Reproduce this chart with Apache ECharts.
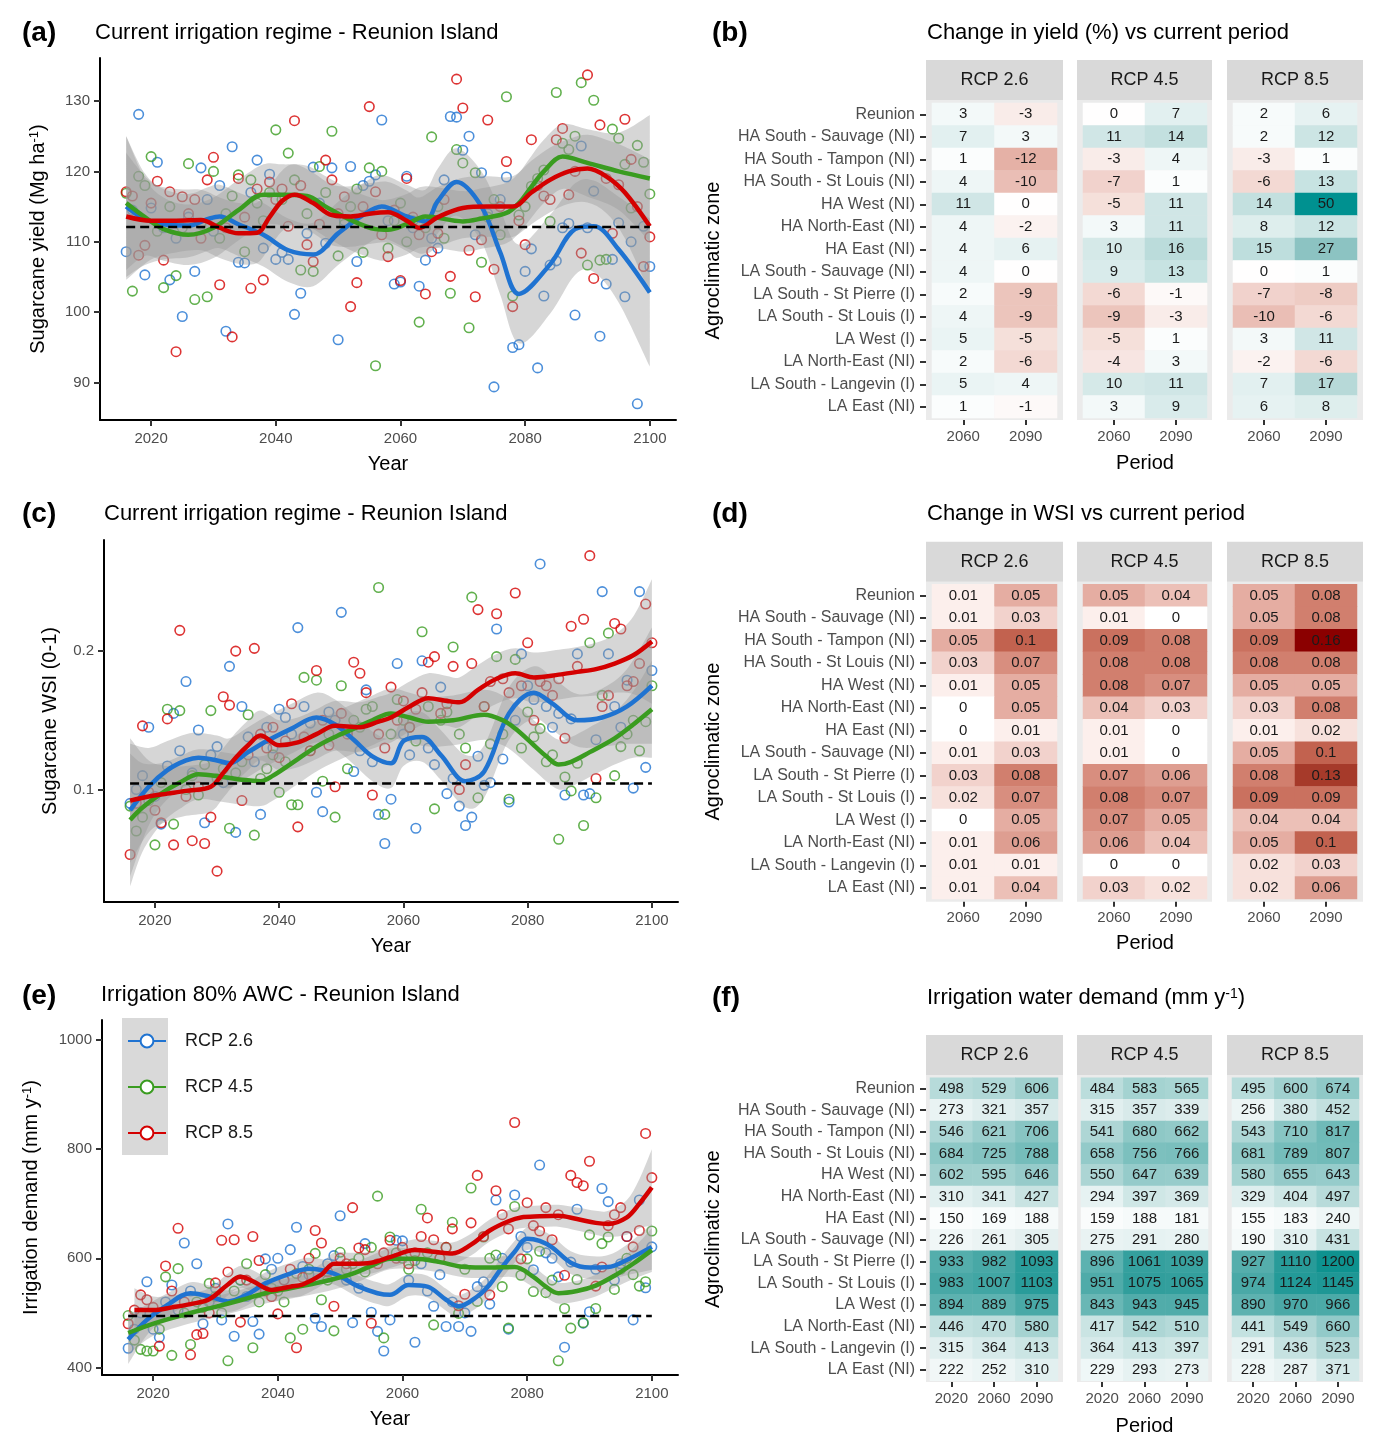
<!DOCTYPE html>
<html><head><meta charset="utf-8">
<script src="https://cdn.jsdelivr.net/npm/echarts@6/dist/echarts.min.js"></script>
<style>html,body{margin:0;padding:0;background:#fff}#c{width:1378px;height:1446px}</style>
</head><body><div id="c"></div>
<script>
// ---------------- DATA ----------------
const firstYear = 2016;
const rcpNames = ['RCP 2.6', 'RCP 4.5', 'RCP 8.5'];

// (a) yearly sugarcane yield (Mg/ha), 2016..2100
const yieldRcp26 = [108.6,114.5,128.1,105.3,114.8,121.3,112.0,104.6,110.5,99.4,
113.5,105.8,120.5,116.0,111.5,118.0,97.3,123.5,107.1,107.0,
117.0,121.6,109.1,119.6,107.5,108.5,107.5,99.7,102.7,111.2,
120.6,115.5,109.8,120.5,96.1,113.0,120.7,107.2,118.0,118.6,
119.5,127.3,113.0,104.0,104.3,119.3,112.0,103.7,107.4,110.5,
109.1,118.8,127.8,127.7,123.0,125.0,111.0,119.8,114.0,89.4,
116.0,119.2,95.0,95.4,105.8,109.0,92.1,102.3,106.7,107.3,
112.0,112.6,99.6,123.6,112.0,117.2,96.6,104.0,107.5,112.7,
102.2,110.0,87.0,112.2,106.5];
const yieldRcp45 = [116.9,103.0,119.3,118.0,122.1,111.5,103.5,115.0,105.2,112.0,
121.1,101.8,112.5,102.2,120.0,110.5,114.0,116.5,119.5,108.6,
118.8,115.5,113.0,117.0,125.9,116.0,122.6,118.8,106.0,114.0,
105.8,120.7,117.0,125.7,108.0,112.5,115.0,117.5,108.5,120.5,
92.4,120.0,109.1,113.0,115.5,110.0,113.0,98.6,112.0,124.9,
115.0,110.5,102.7,123.1,121.2,97.8,119.8,107.1,113.5,116.0,
111.0,130.6,102.3,113.8,115.0,117.9,119.0,120.2,112.9,131.2,
124.0,123.1,125.0,132.6,106.7,130.1,107.4,107.5,126.0,124.7,
121.0,114.8,123.7,121.3,116.8];
const yieldRcp85 = [117.1,116.5,108.1,109.5,115.5,118.6,107.4,117.1,94.4,116.4,
114.0,116.0,110.5,118.8,122.0,103.9,112.0,96.5,119.0,113.5,
103.4,117.5,104.6,118.5,116.0,117.5,112.2,127.2,118.0,109.6,
107.2,112.5,121.6,118.8,114.0,116.4,100.8,104.2,115.0,129.2,
117.1,111.0,107.9,114.5,104.5,119.0,113.5,111.0,102.6,108.6,
111.2,116.0,105.1,133.1,129.0,108.8,102.2,110.3,127.3,106.1,
115.0,121.4,100.8,113.0,109.6,124.5,118.0,116.5,116.0,124.5,
126.1,116.7,120.0,108.4,133.7,104.8,126.6,119.0,111.2,118.1,
127.4,121.7,115.0,106.5,110.7];
const yieldBaseline = 112.1;

// smoothed fits (a): years, fitted value, half-width of confidence band
const yieldFit26Years = [2016,2019,2022,2026,2029,2031,2034,2038,2042,2046,2050,2054,2057,2061,2064,2066,2069,2073,2076,2079,2084,2088,2091,2095,2100];
const yieldFit26 = [115.0,113.2,112.5,112.3,113.2,113.6,112.5,111.0,108.8,108.2,111.2,113.8,115.0,113.6,112.9,115.8,118.5,115.0,108.5,102.6,106.8,111.8,112.2,108.9,102.8];
const yieldFit26Hw = [10,6.5,5,4.5,4.5,4.5,4.5,4.5,4.5,4.5,4.5,4.5,4.5,4.5,4.5,4.6,4.8,5.0,6.0,7.0,7.0,6.5,6.5,7.5,10.5];
const yieldFit45Years = [2016,2019,2022,2026,2030,2034,2038,2041,2045,2048,2052,2056,2058,2061,2064,2070,2073,2077,2079,2081,2083,2086,2090,2095,2100];
const yieldFit45 = [115.5,113.5,111.8,111.0,112.0,114.5,116.7,116.7,116.5,115.0,113.1,111.8,111.7,112.5,113.6,112.9,113.3,114.1,115.5,117.8,120.0,122.1,121.2,120.0,119.0];
const yieldFit45Hw = [9.5,5.5,4.5,4.3,4.3,4.3,4.3,4.3,4.3,4.3,4.3,4.3,4.3,4.3,4.3,4.3,4.3,4.3,4.3,4.4,4.5,4.6,4.8,5.5,9];
const yieldFit85Years = [2016,2020,2024,2028,2031,2034,2037,2039,2041,2043,2046,2049,2052,2055,2058,2061,2063,2066,2070,2074,2078,2081,2084,2087,2090,2093,2096,2100];
const yieldFit85 = [113.6,113.0,113.0,113.1,112.0,111.2,111.3,113.5,115.8,116.7,115.5,113.8,113.6,114.0,114.2,113.0,112.0,113.5,114.8,115.0,115.0,117.0,118.8,120.0,120.4,119.3,117.0,112.2];
const yieldFit85Hw = [9,5.5,4.5,4.3,4.3,4.3,4.3,4.3,4.3,4.3,4.3,4.3,4.3,4.3,4.3,4.3,4.3,4.3,4.3,4.3,4.3,4.5,4.6,4.6,4.8,5.2,6.5,9.5];

// (c) yearly WSI
const wsiRcp26 = [0.090,0.100,0.110,0.145,0.095,0.075,0.117,0.155,0.128,0.178,
0.112,0.143,0.076,0.125,0.131,0.105,0.189,0.069,0.160,0.138,
0.120,0.082,0.145,0.130,0.158,0.152,0.140,0.217,0.160,0.148,
0.098,0.084,0.156,0.150,0.228,0.142,0.113,0.128,0.172,0.120,
0.082,0.061,0.093,0.191,0.140,0.125,0.072,0.193,0.130,0.118,
0.174,0.097,0.108,0.088,0.074,0.080,0.124,0.103,0.105,0.216,
0.122,0.091,0.150,0.198,0.175,0.165,0.263,0.160,0.145,0.155,
0.096,0.151,0.198,0.096,0.097,0.136,0.243,0.198,0.160,0.145,
0.179,0.101,0.243,0.116,0.186];
const wsiRcp45 = [0.088,0.070,0.080,0.092,0.060,0.105,0.158,0.075,0.157,0.100,
0.110,0.096,0.118,0.157,0.108,0.115,0.072,0.112,0.120,0.154,
0.067,0.108,0.115,0.125,0.098,0.120,0.089,0.089,0.181,0.128,
0.179,0.106,0.140,0.080,0.175,0.115,0.150,0.145,0.158,0.160,
0.246,0.082,0.140,0.165,0.150,0.145,0.135,0.214,0.160,0.086,
0.150,0.156,0.203,0.140,0.130,0.239,0.094,0.160,0.133,0.196,
0.140,0.093,0.194,0.130,0.156,0.138,0.144,0.120,0.125,0.064,
0.109,0.099,0.119,0.074,0.206,0.094,0.168,0.213,0.110,0.131,
0.140,0.150,0.128,0.149,0.175];
const wsiRcp85 = [0.053,0.090,0.146,0.098,0.085,0.076,0.151,0.060,0.215,0.095,
0.063,0.102,0.061,0.080,0.041,0.167,0.161,0.200,0.092,0.125,
0.202,0.140,0.130,0.145,0.123,0.135,0.162,0.073,0.138,0.128,
0.186,0.150,0.132,0.102,0.155,0.140,0.192,0.184,0.170,0.096,
0.140,0.130,0.174,0.150,0.164,0.145,0.158,0.170,0.192,0.196,
0.155,0.162,0.189,0.100,0.118,0.191,0.230,0.160,0.178,0.227,
0.180,0.170,0.242,0.175,0.206,0.150,0.178,0.175,0.168,0.180,
0.137,0.218,0.189,0.223,0.269,0.108,0.160,0.168,0.220,0.216,
0.175,0.178,0.191,0.234,0.206];
const wsiBaseline = 0.1043;

const wsiFit26Years = [2016,2019,2022,2025,2027,2030,2032,2035,2038,2042,2046,2049,2052,2055,2058,2060,2063,2066,2070,2073,2077,2081,2084,2088,2092,2096,2100];
const wsiFit26 = [0.085,0.102,0.114,0.121,0.123,0.121,0.119,0.127,0.135,0.144,0.152,0.147,0.136,0.124,0.119,0.135,0.138,0.125,0.106,0.113,0.155,0.170,0.162,0.150,0.152,0.160,0.175];
const wsiFit26Hw = [0.048,0.028,0.021,0.019,0.018,0.018,0.018,0.018,0.018,0.018,0.018,0.018,0.018,0.018,0.018,0.018,0.018,0.018,0.019,0.019,0.019,0.019,0.019,0.019,0.021,0.027,0.042];
const wsiFit45Years = [2016,2018,2021,2024,2027,2031,2034,2037,2039,2043,2046,2049,2052,2055,2058,2061,2064,2068,2073,2076,2078,2081,2083,2085,2087,2090,2094,2097,2100];
const wsiFit45 = [0.078,0.087,0.097,0.105,0.111,0.109,0.107,0.106,0.110,0.122,0.131,0.138,0.144,0.150,0.155,0.152,0.149,0.150,0.154,0.150,0.144,0.132,0.124,0.118,0.120,0.127,0.137,0.147,0.158];
const wsiFit45Hw = [0.048,0.032,0.022,0.019,0.018,0.018,0.018,0.018,0.018,0.018,0.018,0.018,0.018,0.018,0.018,0.018,0.018,0.018,0.018,0.018,0.018,0.018,0.018,0.018,0.018,0.018,0.019,0.024,0.035];
const wsiFit85Years = [2016,2019,2022,2025,2029,2031,2033,2035,2037,2040,2043,2046,2049,2053,2056,2058,2061,2064,2067,2069,2072,2075,2078,2081,2085,2088,2091,2094,2097,2100];
const wsiFit85 = [0.092,0.095,0.097,0.099,0.102,0.112,0.123,0.132,0.139,0.132,0.134,0.140,0.146,0.145,0.149,0.152,0.160,0.166,0.164,0.163,0.172,0.180,0.184,0.181,0.183,0.185,0.187,0.191,0.197,0.207];
const wsiFit85Hw = [0.045,0.026,0.02,0.018,0.018,0.018,0.018,0.018,0.018,0.018,0.018,0.018,0.018,0.018,0.018,0.018,0.018,0.018,0.018,0.018,0.018,0.018,0.018,0.018,0.018,0.018,0.019,0.021,0.028,0.045];

// (e) yearly irrigation demand (mm/y)
const irrRcp26 = [435,470,500,557,470,455,520,551,505,628,
540,590,480,520,545,487,663,457,560,530,
484,461,599,580,600,560,616,657,585,570,
490,475,590,605,678,560,482,545,627,501,
466,430,487,633,632,560,446,590,540,512,
570,475,520,475,500,466,548,557,516,707,
600,470,716,640,620,579,771,610,600,566,
437,593,690,481,502,580,728,704,560,590,
640,487,707,546,621];
const irrRcp45 = [495,450,433,430,430,470,566,422,581,500,
442,520,510,554,530,500,412,540,560,590,
436,520,570,545,540,520,454,572,470,580,
609,524,560,467,611,580,590,600,575,620,
714,454,639,610,600,580,596,690,610,478,
600,620,666,499,580,729,521,639,600,606,
548,472,695,569,599,539,613,537,560,412,
508,472,561,482,643,508,627,639,543,580,
600,570,549,557,650];
const irrRcp85 = [480,505,533,524,510,439,586,540,655,520,
423,460,462,500,555,633,575,634,483,560,
640,596,540,530,498,560,580,436,565,600,
651,628,575,512,600,590,693,619,616,481,
590,610,633,600,620,590,610,640,674,634,
600,620,654,513,534,665,752,640,533,724,
680,654,849,599,702,660,650,693,634,680,
569,752,739,733,778,549,584,660,680,693,
640,621,651,829,748];
const irrBaseline = 494;

const irrFit26Years = [2016,2019,2022,2026,2029,2032,2035,2038,2042,2045,2049,2053,2056,2058,2061,2064,2067,2069,2072,2074,2076,2078,2080,2082,2084,2087,2090,2093,2096,2100];
const irrFit26 = [451,487,512,536,530,521,533,554,572,581,572,548,536,533,551,548,524,512,530,552,584,612,636,632,620,592,583,584,597,621];
const irrFit26Hw = [45,28,22,20,20,20,20,20,20,20,20,20,20,20,20,20,20,20,20,20,20,20,21,21,21,21,21,22,28,42];
const irrFit45Years = [2016,2019,2022,2026,2030,2034,2038,2042,2046,2049,2052,2055,2058,2062,2066,2070,2074,2078,2081,2083,2085,2088,2091,2094,2097,2100];
const irrFit45 = [463,476,487,500,511,523,536,545,554,562,572,586,599,599,593,584,583,584,566,548,536,540,550,568,590,615];
const irrFit45Hw = [40,25,20,19,19,19,19,19,19,19,19,19,19,19,19,19,19,19,19,19,19,19,20,22,28,40];
const irrFit85Years = [2017,2020,2023,2026,2029,2032,2034,2036,2039,2042,2044,2047,2049,2052,2055,2058,2062,2065,2068,2071,2074,2077,2079,2082,2085,2088,2091,2093,2096,2098,2100];
const irrFit85 = [505,505,510,516,525,552,566,558,542,548,552,570,590,590,592,602,615,612,609,625,651,668,675,677,678,672,665,663,675,700,730];
const irrFit85Hw = [40,25,22,20,20,20,20,20,20,20,20,20,20,20,20,20,20,20,20,20,20,20,20,20,20,21,22,24,32,45,70];

// tick labels
const yearTicks = [2020, 2040, 2060, 2080, 2100];
const yieldTicks = [90, 100, 110, 120, 130];
const wsiTicks = [0.1, 0.2];
const irrTicks = [400, 600, 800, 1000];

// heatmaps
const zones = ['Reunion','HA South - Sauvage (NI)','HA South - Tampon (NI)','HA South - St Louis (NI)','HA West (NI)','HA North-East (NI)','HA East (NI)','LA South - Sauvage (NI)','LA South - St Pierre (I)','LA South - St Louis (I)','LA West (I)','LA North-East (NI)','LA South - Langevin (I)','LA East (NI)'];
const periods2 = ['2060', '2090'];
const periods3 = ['2020', '2060', '2090'];

const yieldChange26 = [[3,-3],[7,3],[1,-12],[4,-10],[11,0],[4,-2],[4,6],[4,0],[2,-9],[4,-9],[5,-5],[2,-6],[5,4],[1,-1]];
const yieldChange45 = [[0,7],[11,14],[-3,4],[-7,1],[-5,11],[3,11],[10,16],[9,13],[-6,-1],[-9,-3],[-5,1],[-4,3],[10,11],[3,9]];
const yieldChange85 = [[2,6],[2,12],[-3,1],[-6,13],[14,50],[8,12],[15,27],[0,1],[-7,-8],[-10,-6],[3,11],[-2,-6],[7,17],[6,8]];

const wsiChange26 = [[0.01,0.05],[0.01,0.03],[0.05,0.1],[0.03,0.07],[0.01,0.05],[0,0.05],[0,0.01],[0.01,0.03],[0.03,0.08],[0.02,0.07],[0,0.05],[0.01,0.06],[0.01,0.01],[0.01,0.04]];
const wsiChange45 = [[0.05,0.04],[0.01,0],[0.09,0.08],[0.08,0.08],[0.08,0.07],[0.04,0.03],[0.01,0],[0.01,0],[0.07,0.06],[0.08,0.07],[0.07,0.05],[0.06,0.04],[0,0],[0.03,0.02]];
const wsiChange85 = [[0.05,0.08],[0.05,0.08],[0.09,0.16],[0.08,0.08],[0.05,0.05],[0.03,0.08],[0.01,0.02],[0.05,0.1],[0.08,0.13],[0.09,0.09],[0.04,0.04],[0.05,0.1],[0.02,0.03],[0.02,0.06]];

const irrDemand26 = [[498,529,606],[273,321,357],[546,621,706],[684,725,788],[602,595,646],[310,341,427],[150,169,188],[226,261,305],[933,982,1093],[983,1007,1103],[894,889,975],[446,470,580],[315,364,413],[222,252,310]];
const irrDemand45 = [[484,583,565],[315,357,339],[541,680,662],[658,756,766],[550,647,639],[294,397,369],[159,188,181],[275,291,280],[896,1061,1039],[951,1075,1065],[843,943,945],[417,542,510],[364,413,397],[229,293,273]];
const irrDemand85 = [[495,600,674],[256,380,452],[543,710,817],[681,789,807],[580,655,643],[329,404,497],[155,183,240],[190,310,431],[927,1110,1200],[974,1124,1145],[890,970,966],[441,549,660],[291,436,523],[228,287,371]];

// ---------------- STYLE / BUILD ----------------
const FONT = "'Liberation Sans', Arial, Helvetica, sans-serif";
const rcpColors = ['#1f73d1', '#3a9c20', '#d40000'];

const option = {
  animation: false, backgroundColor: '#ffffff',
  textStyle: { fontFamily: FONT },
  grid: [], xAxis: [], yAxis: [], series: [], title: [], graphic: [], visualMap: []
};

function toPairs(vals) { return vals.map((v, i) => [firstYear + i, v]); }
function zip(xs, ys) { return xs.map((x, i) => [x, ys[i]]); }
const plainNum = v => String(v);

function hexToRgb(h) { return [parseInt(h.slice(1,3),16), parseInt(h.slice(3,5),16), parseInt(h.slice(5,7),16)]; }
function colorAt(stops, v) {
  if (v <= stops[0][0]) return stops[0][1];
  for (let i = 1; i < stops.length; i++) {
    if (v <= stops[i][0]) {
      const t = (v - stops[i-1][0]) / (stops[i][0] - stops[i-1][0]);
      const a = hexToRgb(stops[i-1][1]), b = hexToRgb(stops[i][1]);
      return 'rgb(' + a.map((c, j) => Math.round(c + (b[j] - c) * t)).join(',') + ')';
    }
  }
  return stops[stops.length-1][1];
}
function ramp(stops, min, max, n) { const o = []; for (let i = 0; i < n; i++) o.push(colorAt(stops, min + (max - min) * i / (n - 1))); return o; }

// Catmull-Rom style bezier segments through pixel points (rendering only)
function bezierThrough(pts) {
  let d = '';
  for (let i = 0; i < pts.length - 1; i++) {
    const p0 = pts[i - 1] || pts[i], p1 = pts[i], p2 = pts[i + 1], p3 = pts[i + 2] || pts[i + 1];
    const c1x = p1[0] + (p2[0] - p0[0]) / 6, c1y = p1[1] + (p2[1] - p0[1]) / 6;
    const c2x = p2[0] - (p3[0] - p1[0]) / 6, c2y = p2[1] - (p3[1] - p1[1]) / 6;
    d += ' C' + c1x.toFixed(2) + ' ' + c1y.toFixed(2) + ' ' + c2x.toFixed(2) + ' ' + c2y.toFixed(2) + ' ' + p2[0].toFixed(2) + ' ' + p2[1].toFixed(2);
  }
  return d;
}

function ribbon(gi, years, fit, hw) {
  const rows = years.map((y, i) => [y, fit[i] - hw[i], fit[i] + hw[i]]);
  return {
    type: 'custom', xAxisIndex: gi, yAxisIndex: gi, z: 3, silent: true, clip: true,
    data: rows, encode: { x: 0, y: [1, 2] },
    renderItem: function (params, api) {
      if (params.dataIndex !== 0) return null;
      const lo = rows.map(r => api.coord([r[0], r[1]]));
      const hi = rows.map(r => api.coord([r[0], r[2]])).reverse();
      const d = 'M' + lo[0][0].toFixed(2) + ' ' + lo[0][1].toFixed(2) + bezierThrough(lo) +
        ' L' + hi[0][0].toFixed(2) + ' ' + hi[0][1].toFixed(2) + bezierThrough(hi) + ' Z';
      return { type: 'path', shape: { pathData: d }, style: { fill: 'rgba(153,153,153,0.4)', stroke: null } };
    }
  };
}

const richName = { n: { fontSize: 20, color: '#000', fontFamily: FONT }, s: { fontSize: 13, color: '#000', verticalAlign: 'top', fontFamily: FONT } };

function addLeftPanel(cfg) {
  const gi = option.grid.length;
  option.grid.push({ left: cfg.left, top: cfg.top, width: cfg.width, height: cfg.height });
  option.xAxis.push({
    type: 'value', gridIndex: gi, min: 2011.8, max: 2104.2,
    name: 'Year', nameLocation: 'middle', nameGap: 34, nameTextStyle: { fontSize: 20, color: '#000' },
    axisLine: { show: true, onZero: false, lineStyle: { color: '#000', width: 2 } },
    axisTick: { show: true, length: 6, lineStyle: { color: '#333', width: 2 }, customValues: yearTicks },
    axisLabel: { color: '#4d4d4d', fontSize: 15, margin: 11, customValues: yearTicks, formatter: plainNum },
    splitLine: { show: false }
  });
  option.yAxis.push({
    type: 'value', gridIndex: gi, min: cfg.ymin, max: cfg.ymax,
    name: cfg.yname, nameLocation: 'middle', nameGap: cfg.nameGap, nameRotate: 90,
    nameTextStyle: { fontSize: 20, color: '#000', rich: richName },
    axisLine: { show: true, onZero: false, lineStyle: { color: '#000', width: 2 } },
    axisTick: { show: true, length: 6, lineStyle: { color: '#333', width: 2 }, customValues: cfg.yticks },
    axisLabel: { color: '#4d4d4d', fontSize: 15, margin: 10, customValues: cfg.yticks, formatter: plainNum },
    splitLine: { show: false }
  });
  cfg.points.forEach((vals, k) => {
    option.series.push({
      type: 'scatter', name: rcpNames[k] + ' points', xAxisIndex: gi, yAxisIndex: gi, z: 2, silent: true,
      data: toPairs(vals), symbol: 'circle', symbolSize: 9.5,
      itemStyle: { color: 'rgba(255,255,255,0)', borderColor: rcpColors[k], borderWidth: 1.6 }
    });
  });
  cfg.fits.forEach(f => option.series.push(ribbon(gi, f[0], f[1], f[2])));
  cfg.fits.forEach((f, k) => {
    option.series.push({
      type: 'line', name: rcpNames[k], xAxisIndex: gi, yAxisIndex: gi, z: 4, silent: true,
      data: zip(f[0], f[1]), smooth: 0.35, showSymbol: false, symbol: 'emptyCircle', symbolSize: 10,
      lineStyle: { color: rcpColors[k], width: 4.5 }, itemStyle: { color: rcpColors[k] }
    });
  });
  const lastYear = firstYear + cfg.points[0].length - 1;
  option.series.push({
    type: 'line', name: 'baseline', xAxisIndex: gi, yAxisIndex: gi, z: 5, silent: true,
    data: [[firstYear, cfg.baseline], [lastYear, cfg.baseline]], symbol: 'none',
    lineStyle: { color: '#000', width: 2.5, type: [9, 5] }
  });
}

addLeftPanel({ left: 100, top: 58, width: 576, height: 362, ymin: 84.7, ymax: 136.1, yticks: yieldTicks,
  yname: '{n|Sugarcane yield (Mg ha}{s|-1}{n|)}', nameGap: 52,
  points: [yieldRcp26, yieldRcp45, yieldRcp85], baseline: yieldBaseline,
  fits: [[yieldFit26Years, yieldFit26, yieldFit26Hw], [yieldFit45Years, yieldFit45, yieldFit45Hw], [yieldFit85Years, yieldFit85, yieldFit85Hw]] });
addLeftPanel({ left: 104, top: 540, width: 574, height: 362, ymin: 0.0187, ymax: 0.2803, yticks: wsiTicks,
  yname: 'Sugarcane WSI (0-1)', nameGap: 44,
  points: [wsiRcp26, wsiRcp45, wsiRcp85], baseline: wsiBaseline,
  fits: [[wsiFit26Years, wsiFit26, wsiFit26Hw], [wsiFit45Years, wsiFit45, wsiFit45Hw], [wsiFit85Years, wsiFit85, wsiFit85Hw]] });
addLeftPanel({ left: 102, top: 1020, width: 576, height: 355, ymin: 386, ymax: 1037, yticks: irrTicks,
  yname: '{n|Irrigation demand (mm y}{s|-1}{n|)}', nameGap: 61,
  points: [irrRcp26, irrRcp45, irrRcp85], baseline: irrBaseline,
  fits: [[irrFit26Years, irrFit26, irrFit26Hw], [irrFit45Years, irrFit45, irrFit45Hw], [irrFit85Years, irrFit85, irrFit85Hw]] });

// legend box (e)
option.graphic.push({ type: 'rect', shape: { x: 122, y: 1018, width: 46, height: 137 }, style: { fill: '#d9d9d9' }, z: 0, silent: true });
option.legend = {
  data: rcpNames, orient: 'vertical', left: 127, top: 1032, itemWidth: 38, itemHeight: 16, itemGap: 28,
  selectedMode: false, padding: 0,
  textStyle: { fontSize: 18, color: '#1a1a1a', padding: [0, 0, 0, 14] }
};

function heatData(rows) { const d = []; rows.forEach((r, zi) => r.forEach((v, pi) => d.push([pi, zi, v]))); return d; }

const panelX = [[926, 1063], [1077, 1212], [1227, 1363]];

function addHeatPanel(cfg) {
  const sIdx = [];
  for (let f = 0; f < 3; f++) {
    const gi = option.grid.length;
    const x0 = cfg.cellX[f][0], x1 = cfg.cellX[f][1];
    option.grid.push({ left: x0, top: cfg.cellsTop, width: x1 - x0, height: cfg.cellsBottom - cfg.cellsTop });
    option.xAxis.push({
      type: 'category', gridIndex: gi, data: cfg.periods, position: 'bottom', offset: cfg.bgBottom - cfg.cellsBottom,
      axisLine: { show: false },
      axisTick: { show: true, alignWithLabel: true, length: 5, lineStyle: { color: '#333', width: 2 } },
      axisLabel: { color: '#4d4d4d', fontSize: 15, margin: 9, interval: 0 },
      splitLine: { show: false },
      name: f === 1 ? 'Period' : '', nameLocation: 'middle', nameGap: cfg.periodGap, nameTextStyle: { fontSize: 20, color: '#000' }
    });
    option.yAxis.push({
      type: 'category', gridIndex: gi, data: zones, inverse: true, position: 'left', offset: x0 - panelX[f][0],
      axisLine: { show: false },
      axisTick: { show: f === 0, alignWithLabel: true, length: 6, lineStyle: { color: '#333', width: 2 } },
      axisLabel: { show: f === 0, color: '#4d4d4d', fontSize: 16, margin: 11, interval: 0 },
      splitLine: { show: false },
      name: f === 0 ? 'Agroclimatic zone' : '', nameLocation: 'middle', nameGap: 203, nameRotate: 90,
      nameTextStyle: { fontSize: 20, color: '#000' }
    });
    sIdx.push(option.series.length);
    option.series.push({
      type: 'heatmap', xAxisIndex: gi, yAxisIndex: gi, z: 2, silent: true,
      data: heatData(cfg.rows[f]),
      label: { show: true, color: '#1a1a1a', fontSize: 15, formatter: p => String(p.value[2]) },
      itemStyle: { borderWidth: 0 }
    });
    const px0 = panelX[f][0], px1 = panelX[f][1];
    option.graphic.push({ type: 'rect', shape: { x: px0, y: cfg.bgTop, width: px1 - px0, height: cfg.bgBottom - cfg.bgTop }, style: { fill: '#ebebeb' }, z: 0, silent: true });
    option.graphic.push({ type: 'rect', shape: { x: px0, y: cfg.stripTop, width: px1 - px0, height: cfg.bgTop - cfg.stripTop }, style: { fill: '#d9d9d9' }, z: 0, silent: true });
    option.graphic.push({ type: 'text', x: (px0 + px1) / 2, y: (cfg.stripTop + cfg.bgTop) / 2, z: 1, silent: true,
      style: { text: rcpNames[f], fontSize: 18, fontFamily: FONT, fill: '#1a1a1a', align: 'center', verticalAlign: 'middle' } });
  }
  option.visualMap.push({ type: 'continuous', show: false, seriesIndex: sIdx, dimension: 2, min: cfg.vmin, max: cfg.vmax,
    inRange: { color: ramp(cfg.stops, cfg.vmin, cfg.vmax, 121) } });
}

addHeatPanel({ cellsTop: 103, cellsBottom: 418, bgTop: 100, bgBottom: 420, stripTop: 60, periodGap: 33,
  cellX: [[932, 1057], [1083, 1207], [1233, 1357]], periods: periods2,
  rows: [yieldChange26, yieldChange45, yieldChange85], vmin: -12, vmax: 50,
  stops: [[-12,'#e5b1a6'],[-6,'#f3d9d3'],[0,'#ffffff'],[7,'#e2f0f0'],[14,'#c3e0df'],[27,'#8cc3c2'],[50,'#009190']] });
addHeatPanel({ cellsTop: 584.3, cellsBottom: 899, bgTop: 581.7, bgBottom: 901.7, stripTop: 541.7, periodGap: 32,
  cellX: [[932, 1057], [1083, 1207], [1233, 1357]], periods: periods2,
  rows: [wsiChange26, wsiChange45, wsiChange85], vmin: 0, vmax: 0.16,
  stops: [[0,'#ffffff'],[0.01,'#fcefec'],[0.03,'#f2d2cc'],[0.05,'#e5ada2'],[0.08,'#d17f6e'],[0.1,'#c2624f'],[0.13,'#a63a2a'],[0.16,'#8b0000']] });
addHeatPanel({ cellsTop: 1077.7, cellsBottom: 1380.7, bgTop: 1075, bgBottom: 1382, stripTop: 1035, periodGap: 34,
  cellX: [[930, 1058], [1081, 1208], [1232, 1359]], periods: periods3,
  rows: [irrDemand26, irrDemand45, irrDemand85], vmin: 150, vmax: 1200,
  stops: [[150,'#fbfdfd'],[300,'#e5f1f1'],[500,'#b7dbda'],[700,'#89c6c4'],[900,'#5cb1af'],[1100,'#2a9c9a'],[1200,'#0e928f']] });

// titles
function addTitle(text, left, top, size, bold, rich) {
  option.title.push({ text: text, left: left, top: top, padding: 0,
    textStyle: { fontSize: size, fontWeight: bold ? 'bold' : 'normal', color: '#000', fontFamily: FONT, rich: rich } });
}
const richTitle = { n: { fontSize: 22, color: '#000', fontFamily: FONT }, s: { fontSize: 14, color: '#000', verticalAlign: 'top', fontFamily: FONT } };
addTitle('(a)', 22, 19, 28, true);
addTitle('Current irrigation regime - Reunion Island', 95, 22, 22, false);
addTitle('(c)', 22, 500, 28, true);
addTitle('Current irrigation regime - Reunion Island', 104, 503, 22, false);
addTitle('(e)', 22, 982, 28, true);
addTitle('Irrigation 80% AWC - Reunion Island', 101, 984, 22, false);
addTitle('(b)', 712, 19, 28, true);
addTitle('Change in yield (%) vs current period', 927, 22, 22, false);
addTitle('(d)', 712, 500, 28, true);
addTitle('Change in WSI vs current period', 927, 503, 22, false);
addTitle('(f)', 712, 984, 28, true);
addTitle('{n|Irrigation water demand (mm y}{s|-1}{n|)}', 927, 987, 22, false, richTitle);

const chart = echarts.init(document.getElementById('c'), null, { renderer: 'canvas' });
chart.setOption(option);
</script>
</body></html>
